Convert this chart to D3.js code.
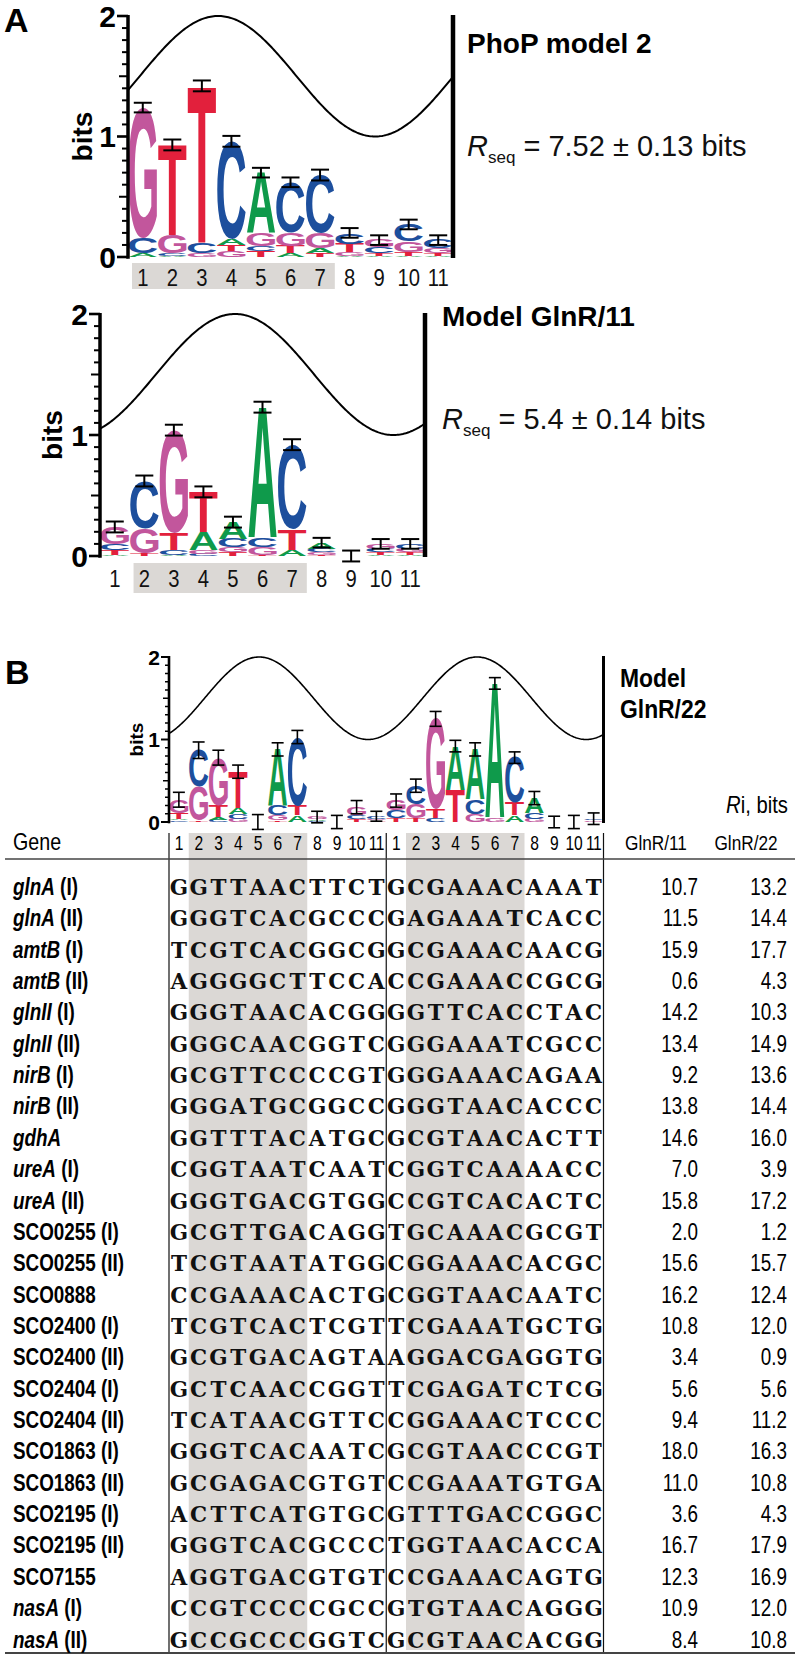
<!DOCTYPE html>
<html><head><meta charset="utf-8">
<script src="https://cdn.jsdelivr.net/npm/d3@7"></script>
<style>body{margin:0;background:#fff}svg{display:block}</style>
</head><body>
<svg id="c" width="800" height="1658"></svg>
<script>
// ---------------- DATA ----------------
const positions11 = [1,2,3,4,5,6,7,8,9,10,11];
const bitTicks = [0,1,2];

// Panel A (top): PhoP model 2 — letters bottom->top with heights in bits
const phopStacks = [
  [["A",0.03],["C",0.13],["G",1.08]],
  [["A",0.01],["C",0.02],["G",0.15],["T",0.75]],
  [["G",0.03],["C",0.09],["T",1.30]],
  [["G",0.05],["T",0.05],["A",0.05],["C",0.81]],
  [["T",0.05],["C",0.04],["G",0.11],["A",0.50]],
  [["A",0.03],["T",0.06],["G",0.11],["C",0.42]],
  [["T",0.03],["A",0.04],["G",0.13],["C",0.48]],
  [["A",0.01],["G",0.03],["T",0.07],["C",0.09]],
  [["A",0.01],["T",0.02],["C",0.05],["G",0.06]],
  [["A",0.01],["T",0.03],["G",0.09],["C",0.14]],
  [["A",0.01],["T",0.02],["G",0.04],["C",0.07]]
];
const phopErrors = [0.04,0.045,0.045,0.045,0.04,0.04,0.045,0.04,0.04,0.04,0.04];
const phopWave = {peak:3.05, period:10.62};

// Panel A (bottom): Model GlnR/11
const glnr11Stacks = [
  [["A",0.01],["T",0.04],["C",0.05],["G",0.14]],
  [["T",0.02],["G",0.21],["C",0.39]],
  [["A",0.01],["C",0.04],["T",0.14],["G",0.85]],
  [["C",0.02],["G",0.03],["A",0.15],["T",0.33]],
  [["T",0.03],["G",0.04],["C",0.07],["A",0.14]],
  [["T",0.01],["G",0.06],["C",0.08],["A",1.08]],
  [["A",0.05],["T",0.17],["C",0.70]],
  [["T",0.01],["G",0.02],["C",0.03],["A",0.05]],
  [],
  [["A",0.01],["T",0.02],["C",0.03],["G",0.04]],
  [["A",0.01],["T",0.02],["G",0.03],["C",0.04]]
];
const glnr11Errors = [0.045,0.045,0.045,0.045,0.045,0.045,0.045,0.04,0.045,0.04,0.04];
const glnr11Wave = {peak:4.57, period:10.72};

// Panel B: Model GlnR/22 (22 positions)
const glnr22Stacks = [
  [["C",0.02],["A",0.02],["T",0.07],["G",0.16]],
  [["T",0.02],["G",0.41],["C",0.44]],
  [["C",0.03],["A",0.03],["T",0.14],["G",0.58]],
  [["G",0.04],["C",0.06],["A",0.07],["T",0.44]],
  [],
  [["T",0.02],["G",0.06],["C",0.12],["A",0.68]],
  [["A",0.08],["T",0.12],["C",0.83]],
  [["C",0.01],["A",0.02],["G",0.03]],
  [],
  [["T",0.03],["C",0.05],["G",0.10]],
  [["T",0.02],["G",0.02],["C",0.03]],
  [["T",0.05],["C",0.09],["G",0.12]],
  [["T",0.05],["G",0.17],["C",0.22]],
  [["C",0.05],["T",0.10],["G",1.10]],
  [["T",0.39],["A",0.53]],
  [["G",0.09],["C",0.18],["A",0.61]],
  [["G",0.05],["A",1.63]],
  [["A",0.08],["T",0.15],["C",0.55]],
  [["G",0.04],["C",0.07],["A",0.18]],
  [],
  [],
  [["G",0.02],["C",0.02]]
];
const glnr22Errors = [0.09,0.1,0.09,0.08,0.09,0.08,0.08,0.07,0.08,0.08,0.06,0.08,0.08,0.09,0.07,0.08,0.07,0.07,0.08,0.07,0.08,0.07];
const glnr22Wave = {peak:4.56, period:11.04};

// Table
const geneNames = ["glnA","glnA","amtB","amtB","glnII","glnII","nirB","nirB","gdhA","ureA","ureA",
  "SCO0255","SCO0255","SCO0888","SCO2400","SCO2400","SCO2404","SCO2404","SCO1863","SCO1863",
  "SCO2195","SCO2195","SCO7155","nasA","nasA"];
const geneSites = ["(I)","(II)","(I)","(II)","(I)","(II)","(I)","(II)","","(I)","(II)",
  "(I)","(II)","","(I)","(II)","(I)","(II)","(I)","(II)","(I)","(II)","","(I)","(II)"];
const sequences = [
  "GGTTAACTTCTGCGAAACAAAT","GGGTCACGCCCGAGAAATCACC","TCGTCACGGCGGCGAAACAACG","AGGGGCTTCCACCGAAACCGCG",
  "GGGTAACACGGGGTTCACCTAC","GGGCAACGGTCGGGAAATCGCC","GCGTTCCCCGTGGGAAACAGAA","GGGATGCGGCCGGGTAACACCC",
  "GGTTTACATGCGCGTAACACTT","CGGTAATCAATCGGTCAAAACC","GGGTGACGTGGCCGTCACACTC","GCGTTGACAGGTGCAAACGCGT",
  "TCGTAATATGGCGGAAACACGC","CCGAAACACTGCGGTAACAATC","TCGTCACTCGTTCGAAATGCTG","GCGTGACAGTAAGGACGAGGTG",
  "GCTCAACCGGTTCGAGATCTCG","TCATAACGTTCCGGAAACTCCC","GGGTCACAATCGCGTAACCCGT","GCGAGACGTGTCCGAAATGTGA",
  "ACTTCATGTGCGTTTGACCGGC","GGGTCACGCCCTGGTAACACCA","AGGTGACGTGTCCGAAACAGTG","CCGTCCCCGCCGTGTAACAGGG",
  "GCCGCCCGGTCGCGTAACACGG"];
const riGlnR11 = ["10.7","11.5","15.9","0.6","14.2","13.4","9.2","13.8","14.6","7.0","15.8","2.0","15.6","16.2","10.8","3.4","5.6","9.4","18.0","11.0","3.6","16.7","12.3","10.9","8.4"];
const riGlnR22 = ["13.2","14.4","17.7","4.3","10.3","14.9","13.6","14.4","16.0","3.9","17.2","1.2","15.7","12.4","12.0","0.9","5.6","11.2","16.3","10.8","4.3","17.9","16.9","12.0","10.8"];
const shadedPositions = [2,3,4,5,6,7];

// ---------------- DRAWING ----------------
const svg = d3.select('#c');
const COLORS = {A:'#0f9a4b', C:'#1d4f9d', G:'#c2569c', T:'#e2203c'};
const SANS = '"Liberation Sans", Arial, Helvetica, sans-serif';
const NARROW = 0.82;

const ctx = document.createElement('canvas').getContext('2d');
ctx.font = 'bold 200px "Liberation Sans"';
const inkCache = {};
function ink(ch){
  if(!inkCache[ch]){
    const m = ctx.measureText(ch);
    inkCache[ch] = {l:m.actualBoundingBoxLeft, r:m.actualBoundingBoxRight, a:m.actualBoundingBoxAscent, d:m.actualBoundingBoxDescent};
  }
  return inkCache[ch];
}
// condensed text helper (horizontal squeeze)
function ntext(parent, x, y, size, anchor, sx){
  return parent.append('text').attr('transform', `translate(${x},${y}) scale(${sx||NARROW},1)`)
    .attr('x',0).attr('y',0).attr('text-anchor', anchor||'start')
    .attr('font-family', SANS).attr('font-size', size);
}

function drawLogo(o){
  const g = svg.append('g');
  const n = o.stacks.length;
  const xb = d3.scaleBand().domain(d3.range(n)).range([o.x0, o.x1]);
  const xc = d3.scaleLinear().domain([0, n]).range([o.x0, o.x1]);
  const y = d3.scaleLinear().domain([0, 2]).range([o.y0, o.yTop]);

  if(o.numbers){
    g.append('rect').attr('x', xb(o.shadeFrom) + o.shadeInset).attr('y', o.numBoxTop)
      .attr('width', xb(o.shadeTo) + xb.bandwidth() - xb(o.shadeFrom) - o.shadeInset)
      .attr('height', o.numBoxH).attr('fill', '#dbd8d5');
    positions11.forEach((d,i) => ntext(g, xb(i)+xb.bandwidth()/2, o.numBase, o.numSize, 'middle', 0.88)
      .attr('fill','#111').text(d));
  }

  const pts = d3.range(0, n + 0.0001, 0.05).map(t => [t, 1.5 + 0.5*Math.cos(2*Math.PI*(t - o.wave.peak)/o.wave.period)]);
  g.append('path').attr('d', d3.line().x(d=>xc(d[0])).y(d=>y(d[1]))(pts))
    .attr('fill','none').attr('stroke','#000').attr('stroke-width', o.waveW);

  o.stacks.forEach((st, i) => {
    let cum = 0;
    const w = xb.bandwidth()*o.letterFill;
    const left = xb(i) + (xb.bandwidth()-w)/2;
    st.forEach(([ch, h]) => {
      const top = y(cum + h), bot = y(cum);
      const hh = bot - top;
      const m = ink(ch);
      g.append('text').text(ch)
        .attr('font-family', '"Liberation Sans"').attr('font-weight','bold').attr('font-size', 200)
        .attr('x', m.l).attr('y', m.a).attr('fill', COLORS[ch])
        .attr('transform', `translate(${left},${top}) scale(${w/(m.l+m.r)},${hh/(m.a+m.d)})`);
      cum += h;
    });
    const e = o.errors[i];
    const cx = xb(i) + xb.bandwidth()/2;
    const eb = g.append('g').attr('stroke','#000').attr('stroke-width', o.errStroke);
    eb.append('line').attr('x1',cx).attr('x2',cx).attr('y1',y(cum+e)).attr('y2',y(cum-e));
    [cum+e, cum-e].forEach(v => eb.append('line').attr('x1',cx-o.errW/2).attr('x2',cx+o.errW/2).attr('y1',y(v)).attr('y2',y(v)));
  });

  g.append('line').attr('x1',o.x0).attr('x2',o.x0).attr('y1',o.y0+o.axisW/2).attr('y2',o.yTop-1).attr('stroke','#000').attr('stroke-width',o.axisW);
  d3.range(0, 21).forEach(k => {
    const v = k/10;
    const len = (k % 10 === 0) ? o.tickL[0] : (k % 5 === 0 ? o.tickL[1] : o.tickL[2]);
    g.append('line').attr('x1', o.x0 - len).attr('x2', o.x0).attr('y1', y(v)).attr('y2', y(v))
      .attr('stroke','#000').attr('stroke-width', (k%10===0)? o.tickW*1.3 : o.tickW);
  });
  g.selectAll('text.tl').data(bitTicks).enter().append('text')
    .attr('x', o.x0 - o.labelGap).attr('y', d=>y(d)).attr('dy','0.36em')
    .attr('text-anchor','end').attr('font-family',SANS).attr('font-weight','bold')
    .attr('font-size',o.axisFont).text(d=>d);
  g.append('text').attr('transform',`translate(${o.bitsX},${(o.y0+o.yTop)/2 + o.bitsDY}) rotate(-90)`)
    .attr('text-anchor','middle').attr('font-family',SANS).attr('font-weight','bold')
    .attr('font-size',o.bitsFont).text('bits');
  g.append('line').attr('x1',o.x1).attr('x2',o.x1).attr('y1',o.yTop-1).attr('y2',o.y0+1).attr('stroke','#000').attr('stroke-width',o.barW);
  return {xb, y};
}

// Panel labels
svg.append('text').attr('x',4).attr('y',32).attr('font-family',SANS).attr('font-weight','bold').attr('font-size',34).text('A');
svg.append('text').attr('x',5).attr('y',684).attr('font-family',SANS).attr('font-weight','bold').attr('font-size',34).text('B');

drawLogo({stacks:phopStacks, errors:phopErrors, wave:phopWave,
  x0:128, x1:453, y0:257, yTop:16, waveW:2, letterFill:0.96, errW:18, errStroke:2,
  axisW:3.5, barW:4.5, tickL:[11,9,6], tickW:2, labelGap:12, axisFont:30, bitsFont:28, bitsX:92, bitsDY:0,
  numbers:true, shadeFrom:0, shadeTo:6, shadeInset:4, numBoxTop:263, numBoxH:26, numBase:286, numSize:23});

drawLogo({stacks:glnr11Stacks, errors:glnr11Errors, wave:glnr11Wave,
  x0:100, x1:425, y0:556, yTop:314, waveW:2, letterFill:0.96, errW:18, errStroke:2,
  axisW:3.5, barW:4.5, tickL:[11,9,6], tickW:2, labelGap:12, axisFont:30, bitsFont:28, bitsX:62, bitsDY:0,
  numbers:true, shadeFrom:1, shadeTo:6, shadeInset:4, numBoxTop:563, numBoxH:30, numBase:587, numSize:23});

const B = drawLogo({stacks:glnr22Stacks, errors:glnr22Errors, wave:glnr22Wave,
  x0:169, x1:603.5, y0:822, yTop:657, waveW:1.6, letterFill:0.96, errW:12, errStroke:1.6,
  axisW:2.6, barW:3, tickL:[8,6,4], tickW:1.5, labelGap:9, axisFont:21, bitsFont:19, bitsX:143, bitsDY:0,
  numbers:false});

// Titles
function rseq(x, yb, val){
  const t = svg.append('text').attr('x',x).attr('y',yb).attr('font-family',SANS).attr('font-size',29).attr('fill','#111');
  t.append('tspan').attr('font-style','italic').text('R');
  t.append('tspan').attr('font-size',17).attr('dy',7).text('seq');
  t.append('tspan').attr('dy',-7).text(' = ' + val);
}
svg.append('text').attr('x',467).attr('y',53).attr('font-family',SANS).attr('font-weight','bold').attr('font-size',28).text('PhoP model 2');
rseq(467, 156, '7.52 ± 0.13 bits');
svg.append('text').attr('x',442).attr('y',326).attr('font-family',SANS).attr('font-weight','bold').attr('font-size',28).text('Model GlnR/11');
rseq(442, 429, '5.4 ± 0.14 bits');
ntext(svg, 620, 687, 26, 'start', 0.88).attr('font-weight','bold').text('Model');
ntext(svg, 620, 718, 26, 'start', 0.88).attr('font-weight','bold').text('GlnR/22');
const rib = ntext(svg, 757, 813, 23, 'middle', 0.88);
rib.append('tspan').attr('font-style','italic').text('R');
rib.append('tspan').text('i, bits');

// ---------------- TABLE ----------------
const tg = svg.append('g');
const xb = B.xb;
const tableTop = 833, tableBottom = 1653;
const rowY = d3.scaleLinear().domain([0, sequences.length-1]).range([887, 1639.5]);

[0, 11].forEach(off => {
  const a = off + shadedPositions[0] - 1, b = off + shadedPositions[shadedPositions.length-1] - 1;
  tg.append('rect').attr('x', xb(a)).attr('y', tableTop).attr('width', xb(b)+xb.bandwidth()-xb(a))
    .attr('height', tableBottom - 3 - tableTop).attr('fill','#dbd8d5');
});
[xb(0), xb(11), xb(21)+xb.bandwidth()].forEach(x => tg.append('line').attr('x1',x).attr('x2',x)
  .attr('y1',tableTop).attr('y2',tableBottom).attr('stroke','#111').attr('stroke-width',1.2));
tg.append('line').attr('x1',5).attr('x2',795).attr('y1',859).attr('y2',859).attr('stroke','#444').attr('stroke-width',1.6);
tg.append('line').attr('x1',5).attr('x2',795).attr('y1',tableBottom).attr('y2',tableBottom).attr('stroke','#444').attr('stroke-width',2);

ntext(tg, 13, 850, 24).text('Gene');
d3.range(22).forEach(i => ntext(tg, xb(i)+xb.bandwidth()/2, 850, 20, 'middle', 0.78)
  .attr('letter-spacing',-0.5).text(positions11[i % 11]));
ntext(tg, 656, 850, 21, 'middle').text('GlnR/11');
ntext(tg, 746, 850, 21, 'middle').text('GlnR/22');

sequences.forEach((seq, r) => {
  const yc = rowY(r);
  const lab = ntext(tg, 13, yc+8, 23).attr('font-weight','bold');
  lab.append('tspan').attr('font-style', geneNames[r].startsWith('SCO') ? 'normal' : 'italic').text(geneNames[r]);
  if(geneSites[r]) lab.append('tspan').text(' ' + geneSites[r]);
  seq.split('').forEach((ch, i) => tg.append('text').attr('x', xb(i)+xb.bandwidth()/2).attr('y', yc+8)
    .attr('text-anchor','middle').attr('font-family','"DejaVu Serif", serif')
    .attr('font-weight','bold').attr('font-size',21.5).attr('fill','#111').text(ch));
  ntext(tg, 698, yc+8, 23, 'end').text(riGlnR11[r]);
  ntext(tg, 787, yc+8, 23, 'end').text(riGlnR22[r]);
});
</script>
</body></html>
